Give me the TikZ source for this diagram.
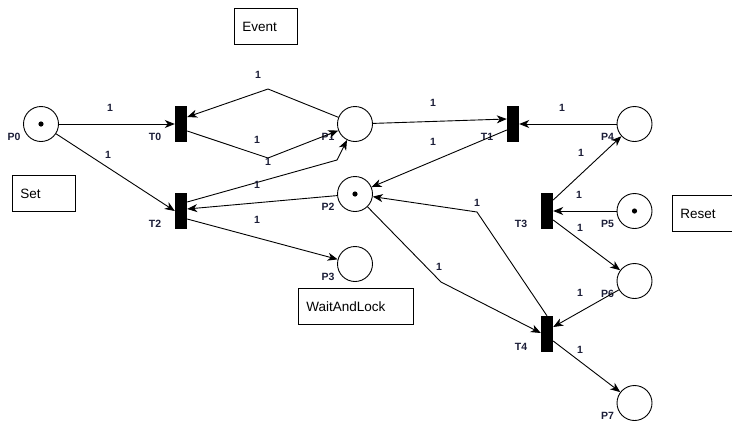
\documentclass[tikz,border=0pt]{standalone}
\usepackage{fontspec}
\setmainfont{Liberation Sans}
\usetikzlibrary{arrows.meta}

\definecolor{tagcol}{RGB}{28,30,56}

\tikzset{
    place/.style={circle, draw, line width=0.9pt, minimum size=35pt, inner sep=0pt,
        label={[tag, xshift=-27pt, yshift=-13pt]center:#1}},
    trans/.style={fill=black, minimum width=12pt, minimum height=36pt, inner sep=0pt,
        label={[tag, xshift=-26pt, yshift=-13pt]center:#1}},
    marked/.style={path picture={\fill (path picture bounding box.center) circle (2.6pt);}},
    tag/.style={text=tagcol, font=\fontsize{10.5}{12}\selectfont\bfseries, inner sep=0pt},
    wt/.style={tag},
    arc/.style={line width=0.9pt, -{Stealth[length=10pt, width=8pt, inset=3pt]}},
    note/.style={draw, line width=0.9pt, minimum height=36pt, inner sep=0pt,
        font=\fontsize{13.5}{16}\selectfont, anchor=north west}
}

\begin{document}
\begin{tikzpicture}[x=1pt, y=-1pt]
        \useasboundingbox (0,0) rectangle (732,421);

        % places
        \node[place=P0, marked] (P0) at (41,124) {};
        \node[place=P1] (P1) at (355,124) {};
        \node[place=P2, marked] (P2) at (355,194) {};
        \node[place=P3] (P3) at (355,264) {};
        \node[place=P4] (P4) at (634.5,124) {};
        \node[place=P5, marked] (P5) at (634.5,211) {};
        \node[place=P6] (P6) at (634.5,281) {};
        \node[place=P7] (P7) at (634.5,403) {};

        % transitions
        \node[trans=T0] (T0) at (181,124) {};
        \node[trans=T1] (T1) at (513,124) {};
        \node[trans=T2] (T2) at (181,211) {};
        \node[trans=T3] (T3) at (547,211) {};
        \node[trans=T4] (T4) at (547,334) {};

        % bends
        \coordinate (b01) at (268,89);
        \coordinate (b10) at (268,158);
        \coordinate (b21) at (337,160);
        \coordinate (b42) at (477,212);
        \coordinate (b24) at (441,282);

        % arcs
        \draw[arc] (P0) -- (T0.west) node[wt] (w1) at (110,108) {1};
        \draw[arc] (P0) -- (T2.west) node[wt] (w2) at (108,155) {1};
        \draw[arc] (P1) -- (b01) -- ([yshift=7pt]T0.east) node[wt] (w3) at (258,75) {1};
        \draw[arc] ([yshift=-7pt]T0.east) -- (b10) -- (P1) node[wt] (w4) at (257,140) {1};
        \draw[arc] ([yshift=9pt]T2.east) -- (b21) -- (P1) node[wt] (w5) at (268,162) {1};
        \draw[arc] (P2) -- ([yshift=2pt]T2.east) node[wt] (w6) at (257,185) {1};
        \draw[arc] ([yshift=-8pt]T2.east) -- (P3) node[wt] (w7) at (257,220) {1};
        \draw[arc] (P1) -- ([yshift=5pt]T1.west) node[wt] (w8) at (433,103) {1};
        \draw[arc] (P4) -- (T1.east) node[wt] (w9) at (562,108) {1};
        \draw[arc] ([yshift=-6pt]T1.west) -- (P2) node[wt] (w10) at (433,142) {1};
        \draw[arc] (T4.north) -- (b42) -- (P2) node[wt] (w11) at (477,203) {1};
        \draw[arc] (P2) -- (b24) -- ([yshift=1pt]T4.west) node[wt] (w12) at (439,267) {1};
        \draw[arc] ([yshift=11pt]T3.east) -- (P4) node[wt] (w13) at (581,153) {1};
        \draw[arc] (P5) -- (T3.east) node[wt] (w14) at (579,195) {1};
        \draw[arc] ([yshift=-9pt]T3.east) -- (P6) node[wt] (w15) at (580,228) {1};
        \draw[arc] (P6) -- ([yshift=7pt]T4.east) node[wt] (w16) at (580,293) {1};
        \draw[arc] ([yshift=-7pt]T4.east) -- (P7) node[wt] (w17) at (580,350) {1};

        % notes
        \node[note, minimum width=63pt, text width=47pt] (event) at (234,8) {Event};
        \node[note, minimum width=63pt, text width=47pt] (set) at (12,175) {Set};
        \node[note, minimum width=115pt, text width=99pt] (wait) at (298,288) {WaitAndLock};
        \node[note, minimum width=64pt, text width=48pt] (reset) at (672,195) {Reset};

    \end{tikzpicture}
\end{document}
